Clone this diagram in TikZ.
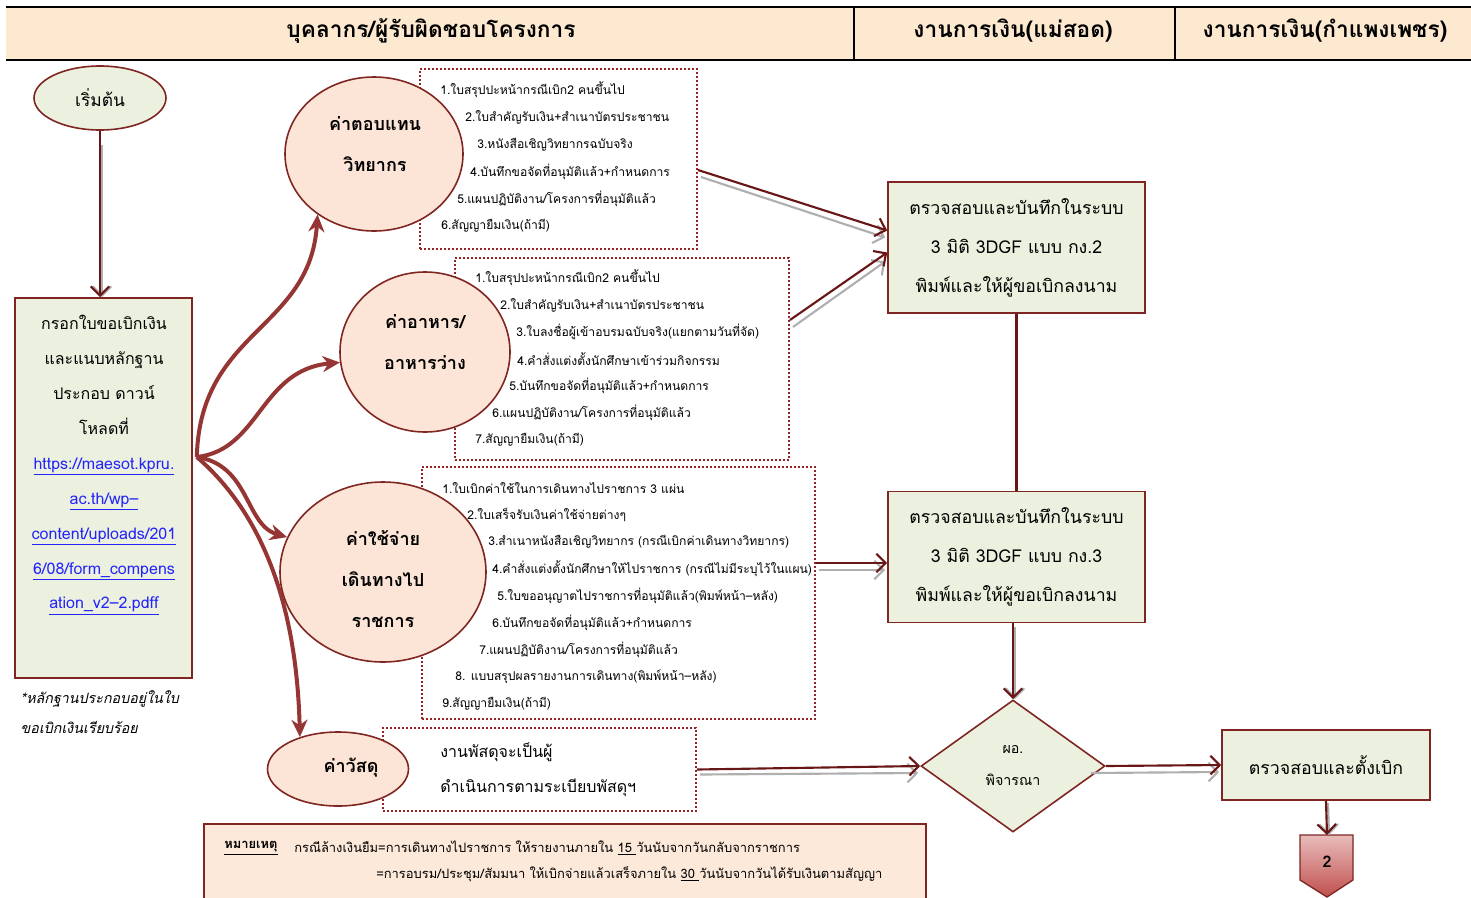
\documentclass[tikz,border=0pt]{standalone}
\usepackage{fontspec}
\setmainfont[Script=Thai]{Loma}
\usetikzlibrary{calc,shapes.geometric,arrows.meta}

\definecolor{hdpeach}{RGB}{253,233,208}
\definecolor{boxgreen}{RGB}{235,241,222}
\definecolor{rimred}{RGB}{128,38,34}
\definecolor{dotred}{RGB}{150,35,35}
\definecolor{cirpeach}{RGB}{252,229,214}
\definecolor{curvered}{RGB}{150,54,52}
\definecolor{flowred}{RGB}{105,22,22}
\definecolor{flowgrey}{RGB}{175,175,175}
\definecolor{linkblue}{RGB}{35,35,250}
\definecolor{notepeach}{RGB}{253,233,217}
\definecolor{pgtop}{RGB}{232,188,187}
\definecolor{pgbottom}{RGB}{192,80,77}

\tikzset{
  hdtext/.style={font=\bfseries\fontsize{17}{20}\selectfont},
  greenbox/.style={draw=rimred, line width=1.2pt, fill=boxgreen, align=center, inner sep=0pt},
  startoval/.style={ellipse, draw=rimred, line width=1.2pt, fill=boxgreen, inner sep=0pt, font=\fontsize{13}{15}\selectfont},
  costcircle/.style={ellipse, draw=rimred, line width=1.2pt, fill=cirpeach, inner sep=0pt},
  costtext/.style={align=center, font=\bfseries\fontsize{13.5}{30.5}\selectfont},
  listbox/.style={draw=dotred, line width=1.4pt, dash pattern=on 1.4pt off 1.6pt, inner sep=0pt},
  listitem/.style={anchor=west, inner sep=0pt, font=\fontsize{9.1}{11}\selectfont},
  curvearrow/.style={draw=curvered, line width=3pt, -{Stealth[length=13pt,width=12pt]}},
  flowarrow/.style={draw=flowred, line width=1.6pt, -{Straight Barb[length=7pt,width=14pt]}},
  flowshadow/.style={draw=flowgrey, line width=1.6pt, -{Straight Barb[length=7pt,width=14pt]}},
  flowline/.style={draw=flowred, line width=1.6pt},
}

\begin{document}
\begin{tikzpicture}[x=0.75pt,y=0.75pt,yscale=-1,xscale=1]
\useasboundingbox (0,0) rectangle (1471,897);
%Header band
\fill[hdpeach] (6,8) rectangle (1471,60);
\draw[line width=2.2pt] (6,7) -- (1471,7);
\draw[line width=2.2pt] (6,60) -- (1471,60);
\draw[line width=1pt] (854,8) -- (854,60);
\draw[line width=1pt] (1175,8) -- (1175,60);
\node[hdtext] (hdStaff) at (431,31) {บุคลากร/ผู้รับผิดชอบโครงการ};
\node[hdtext] (hdMaesot) at (1013,31) {งานการเงิน(แม่สอด)};
\node[hdtext] (hdKpp) at (1325,31) {งานการเงิน(กำแพงเพชร)};

%Shape: Start
\node[startoval, minimum width=99pt, minimum height=48pt] (start) at (100,98) {เริ่มต้น};
%Shape: Form box
\node[greenbox, minimum width=132.75pt, minimum height=285pt] (form) at (103.5,488) {};
\node[align=center, font=\fontsize{12}{26.2}\selectfont] (formTxt) at (104,465) {กรอกใบขอเบิกเงิน\\และแนบหลักฐาน\\ประกอบ ดาวน์\\โหลดที่\\
  \textcolor{linkblue}{\underline{https://maesot.kpru.}}\\\textcolor{linkblue}{\underline{ac.th/wp–}}\\
  \textcolor{linkblue}{\underline{content/uploads/201}}\\\textcolor{linkblue}{\underline{6/08/form\_compens}}\\
  \textcolor{linkblue}{\underline{ation\_v2–2.pdff}}};
\node[anchor=west, align=left, font=\itshape\fontsize{10.7}{22.5}\selectfont] (formNote) at (16,712) {*หลักฐานประกอบอยู่ในใบ\\ขอเบิกเงินเรียบร้อย};

%Shape: Document lists
\node[listbox, minimum width=207.75pt, minimum height=135pt] (listA) at (558.5,159) {};
\node[listbox, minimum width=250.5pt, minimum height=151.5pt] (listB) at (622,359) {};
\node[listbox, minimum width=294.75pt, minimum height=189pt] (listC) at (618.5,593) {};
\node[listbox, minimum width=234.75pt, minimum height=62.25pt] (listD) at (539.5,769.5) {};

\node[listitem] (a1) at (440,90) {1.ใบสรุปปะหน้ากรณีเบิก2 คนขึ้นไป};
\node[listitem] (a2) at (465,117) {2.ใบสำคัญรับเงิน+สำเนาบัตรประชาชน};
\node[listitem] (a3) at (477,145) {3.หนังสือเชิญวิทยากรฉบับจริง};
\node[listitem] (a4) at (470,172) {4.บันทึกขอจัดที่อนุมัติแล้ว+กำหนดการ};
\node[listitem] (a5) at (457,199) {5.แผนปฏิบัติงาน/โครงการที่อนุมัติแล้ว};
\node[listitem] (a6) at (441,226) {6.สัญญายืมเงิน(ถ้ามี)};

\node[listitem] (b1) at (475,278) {1.ใบสรุปปะหน้ากรณีเบิก2 คนขึ้นไป};
\node[listitem] (b2) at (500,305) {2.ใบสำคัญรับเงิน+สำเนาบัตรประชาชน};
\node[listitem] (b3) at (516,332) {3.ใบลงชื่อผู้เข้าอบรมฉบับจริง(แยกตามวันที่จัด)};
\node[listitem] (b4) at (517,359) {4.คำสั่งแต่งตั้งนักศึกษาเข้าร่วมกิจกรรม};
\node[listitem] (b5) at (509,386) {5.บันทึกขอจัดที่อนุมัติแล้ว+กำหนดการ};
\node[listitem] (b6) at (492,413) {6.แผนปฏิบัติงาน/โครงการที่อนุมัติแล้ว};
\node[listitem] (b7) at (475,440) {7.สัญญายืมเงิน(ถ้ามี)};

\node[listitem] (c1) at (442,488) {1.ใบเบิกค่าใช้ในการเดินทางไปราชการ 3 แผ่น};
\node[listitem] (c2) at (467,515) {2.ใบเสร็จรับเงินค่าใช้จ่ายต่างๆ};
\node[listitem] (c3) at (488,542) {3.สำเนาหนังสือเชิญวิทยากร (กรณีเบิกค่าเดินทางวิทยากร)};
\node[listitem] (c4) at (492,569) {4.คำสั่งแต่งตั้งนักศึกษาให้ไปราชการ (กรณีไม่มีระบุไว้ในแผน)};
\node[listitem] (c5) at (497,596) {5.ใบขออนุญาตไปราชการที่อนุมัติแล้ว(พิมพ์หน้า–หลัง)};
\node[listitem] (c6) at (492,623) {6.บันทึกขอจัดที่อนุมัติแล้ว+กำหนดการ};
\node[listitem] (c7) at (479,650) {7.แผนปฏิบัติงาน/โครงการที่อนุมัติแล้ว};
\node[listitem] (c8) at (455,677) {8. แบบสรุปผลรายงานการเดินทาง(พิมพ์หน้า–หลัง)};
\node[listitem] (c9) at (442,704) {9.สัญญายืมเงิน(ถ้ามี)};

\node[listitem, font=\fontsize{12}{14}\selectfont] (d1) at (440,752) {งานพัสดุจะเป็นผู้};
\node[listitem, font=\fontsize{12}{14}\selectfont] (d2) at (440,788) {ดำเนินการตามระเบียบพัสดุฯ};

%Shape: Cost ellipses
\node[costcircle, minimum width=133.5pt, minimum height=115.5pt] (cirFee) at (374,154) {};
\node[costtext] (cirFeeTxt) at (375,144) {ค่าตอบแทน\\วิทยากร};
\node[costcircle, minimum width=127.5pt, minimum height=120pt] (cirFood) at (425,352) {};
\node[costtext] (cirFoodTxt) at (425,342) {ค่าอาหาร/\\อาหารว่าง};
\node[costcircle, minimum width=154.5pt, minimum height=135pt] (cirTrip) at (383,572) {};
\node[costtext] (cirTripTxt) at (383,579) {ค่าใช้จ่าย\\เดินทางไป\\ราชการ};
\node[costcircle, minimum width=105.75pt, minimum height=55.5pt] (cirSupply) at (338,769) {};
\node[costtext] (cirSupplyTxt) at (351,768) {ค่าวัสดุ};

%Shape: Finance boxes
\node[greenbox, minimum width=192.75pt, minimum height=98.25pt, font=\fontsize{13.3}{29.25}\selectfont] (chkGF2) at (1016.5,247.5) {ตรวจสอบและบันทึกในระบบ\\3 มิติ 3DGF แบบ กง.2\\พิมพ์และให้ผู้ขอเบิกลงนาม};
\node[greenbox, minimum width=192.75pt, minimum height=98.25pt, font=\fontsize{13.3}{29.25}\selectfont] (chkGF3) at (1016.5,557) {ตรวจสอบและบันทึกในระบบ\\3 มิติ 3DGF แบบ กง.3\\พิมพ์และให้ผู้ขอเบิกลงนาม};
\node[diamond, draw=rimred, line width=1.2pt, fill=boxgreen, inner sep=0pt, minimum width=138pt, minimum height=99pt, align=center, font=\fontsize{10.7}{24}\selectfont] (director) at (1013,766) {ผอ.\\พิจารณา};
\node[greenbox, minimum width=156pt, minimum height=52.5pt, font=\fontsize{13.3}{16}\selectfont] (setPay) at (1326,765) {ตรวจสอบและตั้งเบิก};

%Shape: Page connector
\path[draw=rimred, line width=1pt, top color=pgtop, bottom color=pgbottom] (1300,835) -- (1353,835) -- (1353,880) -- (1327,897) -- (1300,880) -- cycle;
\coordinate (pageTop) at (1327,835);
\node[font=\bfseries\fontsize{12}{14}\selectfont] (pageTwo) at (1327,862) {2};

%Shape: Remark
\path[draw=rimred, line width=1pt, fill=notepeach] (204,824) rectangle (926,903);
\node[anchor=west, inner sep=0pt, font=\bfseries\fontsize{9.7}{12}\selectfont] (remarkHd) at (224,848) {\underline{หมายเหตุ}};
\node[anchor=west, inner sep=0pt, font=\fontsize{9.7}{12}\selectfont] (remark1) at (294,848) {กรณีล้างเงินยืม=การเดินทางไปราชการ ให้รายงานภายใน \underline{15\ }วันนับจากวันกลับจากราชการ};
\node[anchor=west, inner sep=0pt, font=\fontsize{9.7}{12}\selectfont] (remark2) at (376,874) {=การอบรม/ประชุม/สัมมนา ให้เบิกจ่ายแล้วเสร็จภายใน \underline{30\ }วันนับจากวันได้รับเงินตามสัญญา};

%Curve Lines
\coordinate (fork) at ($(form.east)+(4,-31)$);
\draw[curvearrow] (fork) .. controls (200,330) and (310,330) .. (cirFee.227);
\draw[curvearrow] (fork) .. controls (260,450) and (260,370) .. (cirFood.187);
\draw[curvearrow] (fork) .. controls (250,465) and (245,525) .. (cirTrip.160);
\draw[curvearrow] (fork) .. controls (270,520) and (297,620) .. (cirSupply.140);

%Straight Lines
\draw[flowshadow] ($(start.south)+(2,14)$) -- ($(start.south |- form.north)+(2,0)$);
\draw[flowarrow] (start.south) -- (start.south |- form.north);
\draw[flowshadow] ($(listA.east)+(3,18)$) -- ($(chkGF2.west)+(-2,-10)$);
\draw[flowarrow] ($(listA.east)+(0,11)$) -- ($(chkGF2.west)+(0,-17)$);
\draw[flowshadow] ($(listB.east)+(3,-32)$) -- ($(chkGF2.west)+(-2,14)$);
\draw[flowarrow] ($(listB.east)+(0,-39)$) -- ($(chkGF2.west)+(0,5)$);
\draw[flowshadow] ($(listC.east)+(3,-23)$) -- ($(chkGF3.west)+(-2,13)$);
\draw[flowarrow] ($(listC.east)+(0,-30)$) -- ($(chkGF3.west)+(0,6)$);
\draw[flowshadow] ($(listD.east)+(3,5)$) -- ($(director.west)+(-2,7)$);
\draw[flowarrow] (listD.east) -- (director.west);
\draw[flowline] (chkGF2.south) -- (chkGF3.north);
\draw[flowshadow] ($(director.north |- chkGF3.south)+(2,4)$) -- ($(director.north)+(2,0)$);
\draw[flowarrow] (director.north |- chkGF3.south) -- (director.north);
\draw[flowshadow] ($(director.east)+(-15,7)$) -- ($(setPay.west)+(-2,7)$);
\draw[flowarrow] (director.east) -- (setPay.west);
\draw[flowshadow] ($(setPay.south)+(2,2)$) -- ($(pageTop)+(2,0)$);
\draw[flowarrow] (setPay.south) -- (pageTop);
\end{tikzpicture}
\end{document}
